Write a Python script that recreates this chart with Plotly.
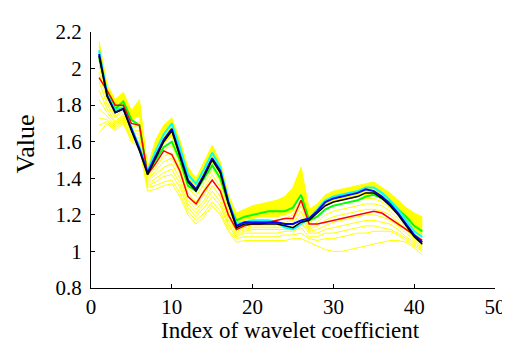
import plotly.graph_objects as go

x = list(range(1, 42))

black = [2.07,1.85,1.76,1.78,1.66,1.55,1.42,1.51,1.60,1.66,1.52,1.38,1.33,1.41,1.50,1.43,1.26,1.13,1.15,1.15,1.15,1.15,1.15,1.14,1.13,1.16,1.17,1.21,1.25,1.27,1.28,1.29,1.30,1.32,1.32,1.29,1.25,1.20,1.14,1.08,1.04]
blue = [2.08,1.85,1.76,1.78,1.67,1.56,1.43,1.52,1.61,1.67,1.53,1.39,1.34,1.42,1.51,1.44,1.27,1.14,1.16,1.16,1.16,1.16,1.16,1.15,1.15,1.17,1.18,1.22,1.27,1.29,1.30,1.31,1.32,1.34,1.33,1.30,1.26,1.21,1.15,1.09,1.05]
cyan = [2.10,1.86,1.77,1.79,1.68,1.57,1.44,1.55,1.64,1.70,1.57,1.42,1.37,1.45,1.54,1.46,1.28,1.15,1.16,1.17,1.17,1.17,1.16,1.13,1.12,1.15,1.18,1.23,1.28,1.30,1.31,1.32,1.33,1.35,1.35,1.32,1.28,1.23,1.17,1.11,1.08]
green = [2.06,1.87,1.78,1.82,1.72,1.69,1.42,1.50,1.57,1.60,1.50,1.36,1.33,1.40,1.47,1.40,1.26,1.17,1.19,1.20,1.21,1.22,1.22,1.22,1.24,1.31,1.17,1.19,1.23,1.25,1.26,1.27,1.28,1.30,1.31,1.29,1.27,1.23,1.19,1.14,1.11]
red = [1.95,1.88,1.80,1.80,1.70,1.69,1.42,1.48,1.55,1.53,1.44,1.30,1.26,1.33,1.39,1.33,1.20,1.12,1.14,1.15,1.15,1.16,1.17,1.18,1.18,1.28,1.15,1.15,1.16,1.17,1.18,1.19,1.20,1.21,1.22,1.21,1.18,1.15,1.12,1.09,1.06]

yellow_a = [2.15,1.91,1.83,1.87,1.77,1.83,1.46,1.61,1.69,1.73,1.61,1.46,1.40,1.49,1.58,1.49,1.31,1.21,1.23,1.25,1.26,1.27,1.28,1.30,1.35,1.46,1.23,1.26,1.31,1.33,1.34,1.35,1.36,1.37,1.38,1.35,1.32,1.28,1.24,1.21,1.19]
yellow_b = [2.12,1.89,1.81,1.85,1.76,1.80,1.45,1.58,1.67,1.72,1.59,1.44,1.39,1.47,1.56,1.48,1.30,1.19,1.21,1.23,1.24,1.25,1.25,1.27,1.31,1.42,1.21,1.25,1.30,1.32,1.33,1.34,1.35,1.36,1.36,1.34,1.31,1.27,1.22,1.18,1.15]
yellow_c = [2.09,1.87,1.79,1.83,1.74,1.77,1.44,1.55,1.64,1.69,1.56,1.42,1.37,1.45,1.53,1.46,1.28,1.17,1.19,1.21,1.22,1.22,1.22,1.23,1.27,1.38,1.19,1.23,1.28,1.30,1.31,1.32,1.33,1.34,1.34,1.32,1.29,1.25,1.20,1.15,1.12]
yellow_d = [2.02,1.84,1.76,1.80,1.72,1.74,1.42,1.51,1.59,1.63,1.51,1.38,1.33,1.40,1.49,1.42,1.25,1.15,1.17,1.18,1.19,1.19,1.19,1.20,1.22,1.33,1.17,1.21,1.25,1.27,1.28,1.29,1.30,1.31,1.31,1.29,1.26,1.22,1.17,1.12,1.09]
yellow_e = [1.98,1.82,1.74,1.78,1.70,1.71,1.41,1.48,1.55,1.58,1.48,1.35,1.30,1.37,1.45,1.38,1.23,1.13,1.15,1.16,1.17,1.17,1.17,1.18,1.20,1.29,1.15,1.19,1.23,1.25,1.26,1.27,1.28,1.29,1.29,1.27,1.24,1.20,1.15,1.10,1.07]
yellow_f = [1.93,1.80,1.73,1.77,1.68,1.69,1.40,1.46,1.52,1.54,1.46,1.32,1.27,1.34,1.42,1.35,1.21,1.12,1.14,1.15,1.15,1.15,1.15,1.16,1.17,1.25,1.13,1.16,1.20,1.22,1.23,1.24,1.25,1.26,1.26,1.25,1.22,1.18,1.13,1.08,1.05]
yellow_g = [1.88,1.78,1.71,1.75,1.66,1.66,1.39,1.44,1.49,1.51,1.43,1.30,1.25,1.31,1.39,1.33,1.19,1.11,1.13,1.14,1.14,1.14,1.14,1.14,1.15,1.22,1.12,1.14,1.17,1.19,1.20,1.21,1.22,1.23,1.23,1.22,1.20,1.16,1.12,1.07,1.04]
yellow_h = [1.83,1.76,1.70,1.74,1.65,1.64,1.38,1.42,1.46,1.48,1.40,1.28,1.23,1.28,1.36,1.30,1.17,1.10,1.12,1.13,1.13,1.13,1.13,1.13,1.14,1.19,1.11,1.12,1.14,1.16,1.17,1.18,1.19,1.20,1.20,1.19,1.17,1.14,1.10,1.06,1.03]
yellow_i = [1.78,1.74,1.69,1.73,1.63,1.62,1.37,1.40,1.43,1.45,1.37,1.26,1.21,1.26,1.33,1.27,1.15,1.09,1.11,1.12,1.12,1.12,1.12,1.12,1.13,1.16,1.10,1.10,1.12,1.13,1.14,1.15,1.16,1.17,1.17,1.16,1.15,1.12,1.08,1.05,1.02]
yellow_j = [1.73,1.72,1.68,1.72,1.62,1.60,1.36,1.38,1.41,1.42,1.35,1.24,1.19,1.24,1.30,1.25,1.14,1.08,1.10,1.10,1.10,1.10,1.10,1.11,1.11,1.13,1.08,1.08,1.10,1.10,1.11,1.12,1.13,1.14,1.14,1.13,1.12,1.10,1.07,1.04,1.01]
yellow_k = [1.69,1.71,1.67,1.71,1.61,1.59,1.35,1.36,1.38,1.39,1.32,1.22,1.17,1.21,1.27,1.22,1.12,1.07,1.08,1.08,1.08,1.08,1.08,1.09,1.09,1.10,1.07,1.06,1.07,1.07,1.08,1.09,1.10,1.10,1.11,1.11,1.11,1.09,1.06,1.03,1.00]
yellow_l = [1.65,1.70,1.66,1.70,1.60,1.57,1.33,1.34,1.36,1.37,1.30,1.20,1.15,1.19,1.25,1.20,1.11,1.05,1.06,1.06,1.06,1.06,1.06,1.06,1.07,1.07,1.05,1.03,1.01,1.00,1.00,1.01,1.02,1.03,1.04,1.05,1.06,1.06,1.05,1.02,0.98]

yellow_lines = [yellow_a, yellow_b, yellow_c, yellow_d, yellow_e, yellow_f,
                yellow_g, yellow_h, yellow_i, yellow_j, yellow_k, yellow_l]

x_ticks = [0, 10, 20, 30, 40, 50]
y_ticks = [0.8, 1.0, 1.2, 1.4, 1.6, 1.8, 2.0, 2.2]
y_tick_text = ["0.8", "1", "1.2", "1.4", "1.6", "1.8", "2", "2.2"]

SERIF = "Times New Roman, Liberation Serif, DejaVu Serif, serif"

fig = go.Figure()

# dense core of the yellow bundle
fig.add_trace(go.Scatter(x=x + x[::-1], y=yellow_a + yellow_d[::-1], fill="toself",
                         fillcolor="#FFFF00", line=dict(width=0), mode="lines",
                         hoverinfo="skip"))
for yl in yellow_lines:
    fig.add_trace(go.Scatter(x=x, y=yl, mode="lines",
                             line=dict(color="#FFFF00", width=1)))

fig.add_trace(go.Scatter(x=x, y=green, mode="lines", line=dict(color="#00FF00", width=2)))
fig.add_trace(go.Scatter(x=x, y=cyan, mode="lines", line=dict(color="#00FFFF", width=2)))
fig.add_trace(go.Scatter(x=x, y=red, mode="lines", line=dict(color="#FF0000", width=1.5)))
fig.add_trace(go.Scatter(x=x, y=blue, mode="lines", line=dict(color="#0000FF", width=2)))
fig.add_trace(go.Scatter(x=x, y=black, mode="lines", line=dict(color="#000000", width=1.5)))

fig.update_layout(
    width=510, height=344,
    margin=dict(l=83, r=12, t=14, b=64),
    plot_bgcolor="white", paper_bgcolor="white",
    showlegend=False,
    font=dict(family=SERIF, color="black"),
    xaxis=dict(range=[0, 50], tickvals=x_ticks, ticks="inside", ticklen=4,
               tickcolor="black", showline=True, linecolor="black", linewidth=1,
               showgrid=False, zeroline=False,
               tickfont=dict(size=21, family=SERIF)),
    yaxis=dict(range=[0.8, 2.2], tickvals=y_ticks, ticktext=y_tick_text,
               ticks="inside", ticklen=4, tickcolor="black", showline=True,
               linecolor="black", linewidth=1, showgrid=False, zeroline=False,
               tickfont=dict(size=21, family=SERIF), ticklabelstandoff=4),
    annotations=[
        dict(text="Value", xref="paper", yref="paper", x=-0.161, y=0.564,
             xanchor="center", yanchor="middle", textangle=-90, showarrow=False,
             font=dict(size=26, family=SERIF)),
        dict(text="Index of wavelet coefficient", xref="paper", yref="paper",
             x=0.494, y=-0.165, xanchor="center", yanchor="middle",
             showarrow=False, font=dict(size=23, family=SERIF)),
    ],
)

fig.write_html("out.html")
